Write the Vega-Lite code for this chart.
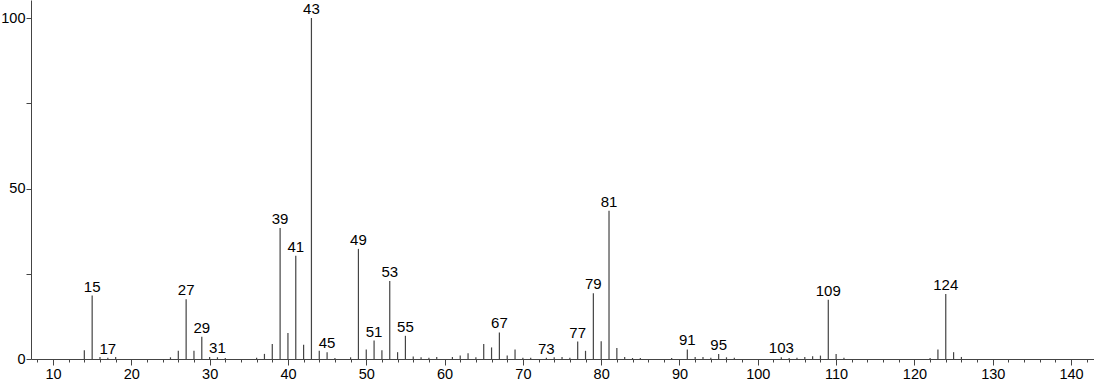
{
  "$schema": "https://vega.github.io/schema/vega-lite/v6.json",
  "autosize": "none",
  "width": 1063,
  "height": 359,
  "padding": {"left": 31, "top": 0, "right": 0, "bottom": 25},
  "background": "white",
  "config": {"view": {"stroke": null}, "font": "Liberation Sans"},
  "data": {"values": [
    {"mz":14,"i":2.6,"lab":false},{"mz":15,"i":18.6,"lab":true},{"mz":16,"i":0.6,"lab":false},{"mz":17,"i":0.4,"lab":true},{"mz":18,"i":0.6,"lab":false},
    {"mz":25,"i":0.5,"lab":false},{"mz":26,"i":2.4,"lab":false},{"mz":27,"i":17.5,"lab":true},{"mz":28,"i":2.4,"lab":false},{"mz":29,"i":6.5,"lab":true},
    {"mz":30,"i":0.6,"lab":false},{"mz":31,"i":0.5,"lab":true},{"mz":32,"i":0.3,"lab":false},{"mz":36,"i":0.4,"lab":false},{"mz":37,"i":1.5,"lab":false},
    {"mz":38,"i":4.4,"lab":false},{"mz":39,"i":38.4,"lab":true},{"mz":40,"i":7.6,"lab":false},{"mz":41,"i":30.3,"lab":true},{"mz":42,"i":4.2,"lab":false},
    {"mz":43,"i":100,"lab":true},{"mz":44,"i":2.4,"lab":false},{"mz":45,"i":2.0,"lab":true},{"mz":46,"i":0.3,"lab":false},{"mz":48,"i":0.5,"lab":false},
    {"mz":49,"i":32.3,"lab":true},{"mz":50,"i":2.8,"lab":false},{"mz":51,"i":5.4,"lab":true},{"mz":52,"i":2.6,"lab":false},{"mz":53,"i":22.9,"lab":true},
    {"mz":54,"i":2.0,"lab":false},{"mz":55,"i":6.8,"lab":true},{"mz":56,"i":0.7,"lab":false},{"mz":57,"i":0.5,"lab":false},{"mz":58,"i":0.4,"lab":false},
    {"mz":59,"i":0.6,"lab":false},{"mz":61,"i":0.6,"lab":false},{"mz":62,"i":1.0,"lab":false},{"mz":63,"i":1.7,"lab":false},{"mz":64,"i":0.5,"lab":false},
    {"mz":65,"i":4.4,"lab":false},{"mz":66,"i":3.4,"lab":false},{"mz":67,"i":7.8,"lab":true},{"mz":68,"i":1.0,"lab":false},{"mz":69,"i":2.8,"lab":false},
    {"mz":70,"i":0.4,"lab":false},{"mz":71,"i":0.4,"lab":false},{"mz":73,"i":0.4,"lab":true},{"mz":74,"i":0.5,"lab":false},{"mz":75,"i":0.6,"lab":false},
    {"mz":76,"i":0.4,"lab":false},{"mz":77,"i":5.1,"lab":true},{"mz":78,"i":2.4,"lab":false},{"mz":79,"i":19.3,"lab":true},{"mz":80,"i":5.2,"lab":false},
    {"mz":81,"i":43.5,"lab":true},{"mz":82,"i":3.2,"lab":false},{"mz":83,"i":0.6,"lab":false},{"mz":84,"i":0.3,"lab":false},{"mz":85,"i":0.3,"lab":false},
    {"mz":89,"i":0.3,"lab":false},{"mz":91,"i":2.8,"lab":true},{"mz":92,"i":0.6,"lab":false},{"mz":93,"i":0.6,"lab":false},{"mz":94,"i":0.4,"lab":false},
    {"mz":95,"i":1.5,"lab":true},{"mz":96,"i":0.5,"lab":false},{"mz":97,"i":0.4,"lab":false},{"mz":103,"i":0.5,"lab":true},{"mz":104,"i":0.3,"lab":false},
    {"mz":105,"i":0.4,"lab":false},{"mz":106,"i":0.6,"lab":false},{"mz":107,"i":0.8,"lab":false},{"mz":108,"i":1.0,"lab":false},{"mz":109,"i":17.4,"lab":true},
    {"mz":110,"i":1.5,"lab":false},{"mz":111,"i":0.4,"lab":false},{"mz":122,"i":0.3,"lab":false},{"mz":123,"i":2.8,"lab":false},{"mz":124,"i":19.1,"lab":true},
    {"mz":125,"i":2.0,"lab":false},{"mz":126,"i":0.6,"lab":false}
  ]},
  "layer": [
    {
      "mark": {"type": "rule", "color": "#444", "strokeWidth": 1.2},
      "encoding": {
        "x": {"field": "mz", "type": "quantitative", "scale": {"domain": [7.19, 142.93], "nice": false, "zero": false},
          "axis": {"orient": "bottom", "title": null, "values": [8,12,14,16,18,22,24,26,28,32,34,36,38,42,44,46,48,52,54,56,58,62,64,66,68,72,74,76,78,82,84,86,88,92,94,96,98,102,104,106,108,112,114,116,118,122,124,126,128,132,134,136,138,142], "labels": false, "tickSize": 3, "tickColor": "#444", "domainColor": "#444", "grid": false}},
        "y": {"field": "i", "type": "quantitative", "scale": {"domain": [0, 105.3], "nice": false},
          "axis": {"title": null, "values": [0,25,50,75,100], "labelExpr": "datum.value % 50 === 0 ? datum.label : ''", "tickSize": 5, "tickColor": "#444", "domainColor": "#444", "labelFontSize": 14.5, "labelColor": "#000", "labelPadding": 1, "grid": false}},
        "y2": {"datum": 0}
      }
    },
    {
      "mark": {"type": "rule", "opacity": 0},
      "encoding": {
        "x": {"field": "mz", "type": "quantitative",
          "axis": {"orient": "bottom", "title": null, "values": [10,20,30,40,50,60,70,80,90,100,110,120,130,140], "tickSize": 6, "tickColor": "#444", "domain": false, "labelFontSize": 14.5, "labelColor": "#000", "labelPadding": 2, "grid": false}},
        "y": {"field": "i", "type": "quantitative"}
      }
    },
    {
      "transform": [{"filter": "datum.lab"}],
      "mark": {"type": "text", "baseline": "bottom", "align": "center", "dy": -1, "fontSize": 15, "color": "#000"},
      "encoding": {
        "x": {"field": "mz", "type": "quantitative", "axis": null},
        "y": {"field": "i", "type": "quantitative"},
        "text": {"field": "mz", "type": "quantitative"}
      }
    }
  ],
  "resolve": {"axis": {"x": "independent"}}
}
